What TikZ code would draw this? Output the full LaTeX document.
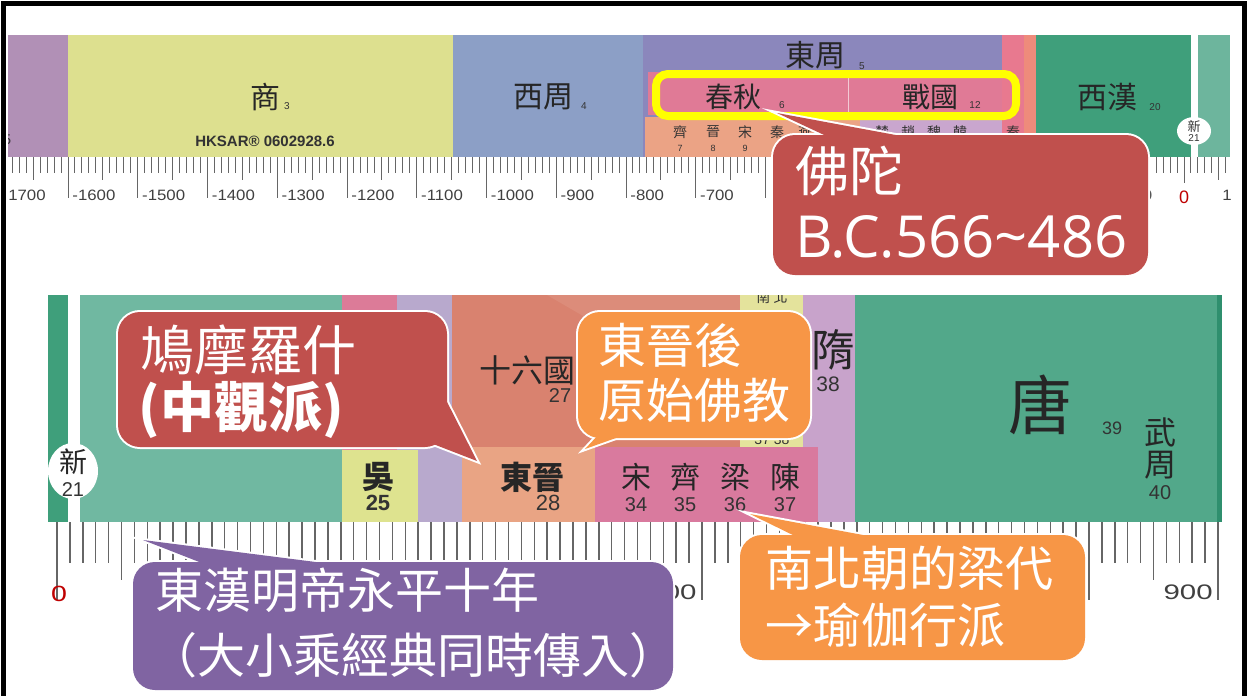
\documentclass[tikz,border=0pt]{standalone}
\usepackage{fontspec}
\newfontfamily\cjk{Noto Sans CJK TC}
\newfontfamily\arial{Liberation Sans}
\newfontfamily\segoe{Open Sans}
\definecolor{xiapurple}{HTML}{B190B6}
\definecolor{shangyel}{HTML}{DDE08F}
\definecolor{zhoublue}{HTML}{8C9FC6}
\definecolor{eastzhou}{HTML}{8B87BC}
\definecolor{qiupink}{HTML}{E07A96}
\definecolor{statesal}{HTML}{EBA385}
\definecolor{stateslav}{HTML}{C9A6CE}
\definecolor{qinpink}{HTML}{E8798F}
\definecolor{qinsal}{HTML}{EE8B7B}
\definecolor{hangreen}{HTML}{3F9F7B}
\definecolor{hanteal}{HTML}{6DB59D}
\definecolor{ehanteal}{HTML}{70B8A1}
\definecolor{weipink}{HTML}{DC7B98}
\definecolor{wuyellow}{HTML}{DEE38F}
\definecolor{jinlav}{HTML}{B8A9CD}
\definecolor{sixteen}{HTML}{D9826F}
\definecolor{jinorange}{HTML}{E9A484}
\definecolor{songpink}{HTML}{D97A9E}
\definecolor{nbyellow}{HTML}{E4E39C}
\definecolor{suilav}{HTML}{C8A3CB}
\definecolor{tanggreen}{HTML}{52A88A}
\definecolor{tangedge}{HTML}{2F8F6E}
\definecolor{callred}{HTML}{C0504D}
\definecolor{callorange}{HTML}{F79646}
\definecolor{callpurple}{HTML}{8064A2}
\definecolor{ringyellow}{HTML}{FFFF00}
\begin{document}
\begin{tikzpicture}[x=0.5pt,y=-0.5pt,
  era/.style={font=\cjk\fontsize{15}{15}\selectfont,text=black!85,inner sep=0pt},
  small/.style={font=\cjk\fontsize{7}{7}\selectfont,text=black!80,inner sep=0pt},
  sub/.style={font=\arial\fontsize{5}{5}\selectfont,text=black!80,inner sep=0pt},
  num/.style={font=\arial\fontsize{10}{10}\selectfont,text=black!80,inner sep=0pt},
  yearlbl/.style={font=\arial\fontsize{7.5}{7.5}\selectfont,text=black!75,inner sep=0pt},
  rulemark/.style={draw=black!60,line width=0.5pt},
  bubble/.style={draw=white,line width=2pt,rounded corners=11pt},
  say/.style={font=\cjk\fontsize{24}{24}\selectfont,text=white,anchor=west,inner sep=0pt}]
\useasboundingbox (0,0) rectangle (1248,696);
\fill[white] (0,0) rectangle (1248,696);

% upper strip: B.C. years
\begin{scope}
\clip (8,0) rectangle (1230,230);
\fill[xiapurple] (8,35) rectangle (68,157);
\fill[shangyel] (68,35) rectangle (453,157);
\fill[zhoublue] (453,35) rectangle (643,157);
\fill[eastzhou] (643,35) rectangle (1002,157);
\fill[qiupink] (648,72) rectangle (1002,115);
\draw[white!60!qiupink,line width=0.4pt] (848,72) -- (848,115);
\fill[statesal] (645,117) rectangle (860,157);
\fill[stateslav] (860,117) rectangle (1002,157);
\fill[qinpink] (1002,35) rectangle (1024,157);
\fill[qinsal] (1024,35) rectangle (1036,157);
\fill[hangreen] (1036,35) rectangle (1191,157);
\fill[hanteal] (1198,35) rectangle (1230,157);
\foreach \yr in {-1700,-1690,...,60} {
  \pgfmathsetmacro\tx{1184+0.6975*\yr}
  \pgfmathsetmacro\te{\yr==0 ? 183 : (mod(\yr,100)==0 ? 198 : (mod(\yr,50)==0 ? 180 : 173))}
  \draw[rulemark] (\tx,157) -- (\tx,\te);
}
\foreach \yr in {-1700,-1600,...,-700,-100} {
  \pgfmathsetmacro\tx{1184+0.6975*\yr+4}
  \node[yearlbl,anchor=west] (bc\yr) at (\tx,195) {\scalebox{1.12}[1]{\yr}};
}
\node[yearlbl,text=red!75!black,font=\arial\fontsize{9}{9}\selectfont] (bczero) at (1184,197) {0};
\node[yearlbl,anchor=west] (adone) at (1222,195) {\scalebox{1.12}[1]{100}};
\node[sub,anchor=west,font=\arial\fontsize{7}{7}\selectfont] (xiano) at (3,140) {5};
\end{scope}
\node[era] (shang) at (265,97) {商};
\node[sub] (shangno) at (287,106) {3};
\node[font=\arial\bfseries\fontsize{7.5}{7.5}\selectfont,text=black!80,inner sep=0pt] (hksar) at (265,141) {HKSAR\textregistered{} 0602928.6};
\node[era] (xizhou) at (543,97) {西周};
\node[sub] (xizhouno) at (584,106) {4};
\node[era] (dongzhou) at (815,55) {東周};
\node[sub] (dongzhouno) at (862,66) {5};
\node[era,font=\cjk\fontsize{14}{14}\selectfont] (chunqiu) at (733,97) {春秋};
\node[sub] (chunqiuno) at (782,105) {6};
\node[era,font=\cjk\fontsize{14}{14}\selectfont] (zhanguo) at (930,97) {戰國};
\node[sub] (zhanguono) at (975,105) {12};
\foreach \c/\n/\xx in {齊/7/680,晉/8/713,宋/9/745} {
  \node[small] (st\n) at (\xx,132) {\c};
  \node[sub,font=\arial\fontsize{4.5}{4.5}\selectfont] (stno\n) at (\xx,148) {\n};
}
\node[small] (stqin) at (777,132) {秦};
\node[small] (styan) at (805,132) {燕};
\foreach \c/\n/\xx in {楚/1/882,趙/2/908,魏/3/934,韓/4/960} {
  \node[small] (ws\n) at (\xx,132) {\c};
}
\node[small] (qinst) at (1013,132) {秦};
\node[era] (xihan) at (1107,97) {西漢};
\node[sub] (xihanno) at (1155,107) {20};
\fill[white] (1194,131) ellipse [x radius=8.5pt,y radius=7pt];
\node[small,font=\cjk\fontsize{6.5}{6.5}\selectfont] (xintop) at (1194,126) {新};
\node[sub] (xintopno) at (1194,138) {21};
\draw[ringyellow,line width=4pt,rounded corners=6pt] (656,74) rectangle (1016,116);

% lower strip: A.D. years
\fill[hangreen] (48,295) rectangle (68,522);
\fill[ehanteal] (80,295) rectangle (342,522);
\fill[jinlav] (397,295) rectangle (462,522);
\fill[weipink] (342,295) rectangle (397,450);
\fill[wuyellow] (342,450) rectangle (418,522);
\fill[sixteen] (452,295) rectangle (740,447);
\fill[white!8!sixteen] (547,295) -- (740,295) -- (740,320) -- (590,320) -- cycle;
\fill[nbyellow] (740,295) rectangle (803,447);
\fill[suilav] (803,295) rectangle (855,522);
\fill[jinorange] (462,447) rectangle (595,522);
\fill[songpink] (595,447) rectangle (818,522);
\fill[tanggreen] (855,295) rectangle (1222,522);
\fill[tangedge] (1217,295) rectangle (1222,522);
\begin{scope}
\clip (740,295) rectangle (803,447);
\node[small] (nanbei) at (772,297) {南\ 北};
\end{scope}
\node[sub,font=\arial\fontsize{7}{7}\selectfont] (nanbeino) at (772,440) {37 38};
\fill[white] (73,471) ellipse [x radius=12.5pt,y radius=14pt];
\node[era,font=\cjk\fontsize{14}{14}\selectfont] (xinbot) at (73,462) {新};
\node[num] (xinbotno) at (73,490) {21};
\node[era,font=\cjk\bfseries\fontsize{16}{16}\selectfont] (wuk) at (378,477) {吳};
\node[num,font=\arial\bfseries\fontsize{11}{11}\selectfont] (wukno) at (378,503) {25};
\node[era,font=\cjk\fontsize{16}{16}\selectfont] (shiliu) at (527,370) {十六國};
\node[num] (shiliuno) at (560,396) {27};
\node[era,font=\cjk\bfseries\fontsize{16}{16}\selectfont] (dongjin) at (532,477) {東晉};
\node[num,font=\arial\fontsize{11}{11}\selectfont] (dongjinno) at (548,503) {28};
\foreach \c/\n/\xx in {宋/34/636,齊/35/685,梁/36/735,陳/37/785} {
  \node[era] (nan\n) at (\xx,477) {\c};
  \node[num] (nanno\n) at (\xx,505) {\n};
}
\node[era,font=\cjk\fontsize{22}{22}\selectfont] (sui) at (833,350) {隋};
\node[num,font=\arial\fontsize{10.5}{10.5}\selectfont] (suino) at (828,384) {38};
\node[era,font=\cjk\fontsize{32}{32}\selectfont] (tang) at (1040,405) {唐};
\node[num,font=\arial\fontsize{9}{9}\selectfont] (tangno) at (1112,428) {39};
\node[era,font=\cjk\fontsize{16}{16}\selectfont] (wuzhoua) at (1160,432) {武};
\node[era,font=\cjk\fontsize{16}{16}\selectfont] (wuzhoub) at (1160,465) {周};
\node[num] (wuzhouno) at (1160,493) {40};
\foreach \yr in {0,10,...,900} {
  \pgfmathsetmacro\tx{57+1.29*\yr}
  \pgfmathsetmacro\te{mod(\yr,100)==0 ? 600 : (mod(\yr,50)==0 ? 580 : 563)}
  \draw[draw=black!60,line width=0.75pt] (\tx,522) -- (\tx,\te);
}
\node[yearlbl,text=red!75!black,font=\arial\fontsize{11}{11}\selectfont] (adzero) at (59,594) {\scalebox{1.3}[1]{0}};
\node[yearlbl,anchor=east,font=\arial\fontsize{10.5}{10.5}\selectfont] (adfive) at (697,592) {\scalebox{1.4}[1]{500}};
\node[yearlbl,anchor=east,font=\arial\fontsize{10.5}{10.5}\selectfont] (adnine) at (1213,592) {\scalebox{1.4}[1]{900}};

% callouts
\coordinate (budtip) at (777,113);
\filldraw[bubble,fill=callred] (773,135) rectangle (1148,275);
\filldraw[bubble,fill=callred,sharp corners] (837,141) -- (budtip) -- (928,141) -- cycle;
\fill[callred,rounded corners=11pt] (773,135) rectangle (1148,275);
\fill[callred] (837,141) -- (budtip) -- (928,141) -- cycle;
\node[say,font=\cjk\fontsize{27}{27}\selectfont] (budname) at (795,171) {佛陀};
\node[say,font=\segoe\fontsize{29}{29}\selectfont] (buddate) at (795,237) {B.C.566\char"7E 486};

\coordinate (kumtip) at (477,461);
\filldraw[bubble,fill=callred] (118,312) rectangle (447,447);
\filldraw[bubble,fill=callred,sharp corners] (442,392) -- (kumtip) -- (428,442) -- cycle;
\fill[callred,rounded corners=11pt] (118,312) rectangle (447,447);
\fill[callred] (442,392) -- (kumtip) -- (428,442) -- cycle;
\node[say,font=\cjk\fontsize{27}{27}\selectfont] (kumname) at (140,350) {鳩摩羅什};
\node[say,font=\cjk\bfseries\fontsize{27}{27}\selectfont] (kumschool) at (138,410) {(中觀派)};

\coordinate (jintip) at (585,449);
\filldraw[bubble,fill=callorange] (578,312) rectangle (810,438);
\filldraw[bubble,fill=callorange,sharp corners] (600,433) -- (jintip) -- (630,433) -- cycle;
\fill[callorange,rounded corners=11pt] (578,312) rectangle (810,438);
\fill[callorange] (600,433) -- (jintip) -- (630,433) -- cycle;
\node[say] (jinlinea) at (598,345) {東晉後};
\node[say] (jinlineb) at (598,400) {原始佛教};

\coordinate (hantip) at (143,540);
\filldraw[bubble,fill=callpurple] (133,562) rectangle (673,690);
\filldraw[bubble,fill=callpurple,sharp corners] (212,567) -- (hantip) -- (355,567) -- cycle;
\fill[callpurple,rounded corners=11pt] (133,562) rectangle (673,690);
\fill[callpurple] (212,567) -- (hantip) -- (355,567) -- cycle;
\node[say] (hanlinea) at (155,590) {東漢明帝永平十年};
\node[say] (hanlineb) at (149,655) {（大小乘經典同時傳入）};

\coordinate (liangtip) at (750,514);
\filldraw[bubble,fill=callorange] (740,535) rectangle (1085,660);
\filldraw[bubble,fill=callorange,sharp corners] (803,540) -- (liangtip) -- (890,540) -- cycle;
\fill[callorange,rounded corners=11pt] (740,535) rectangle (1085,660);
\fill[callorange] (803,540) -- (liangtip) -- (890,540) -- cycle;
\node[say] (lianglinea) at (765,568) {南北朝的梁代};
\node[say] (lianglineb) at (765,625) {→瑜伽行派};

% frame
\draw[black,line width=2.5pt] (3,696) -- (3,3) -- (1244,3) -- (1244,696);
\end{tikzpicture}
\end{document}
